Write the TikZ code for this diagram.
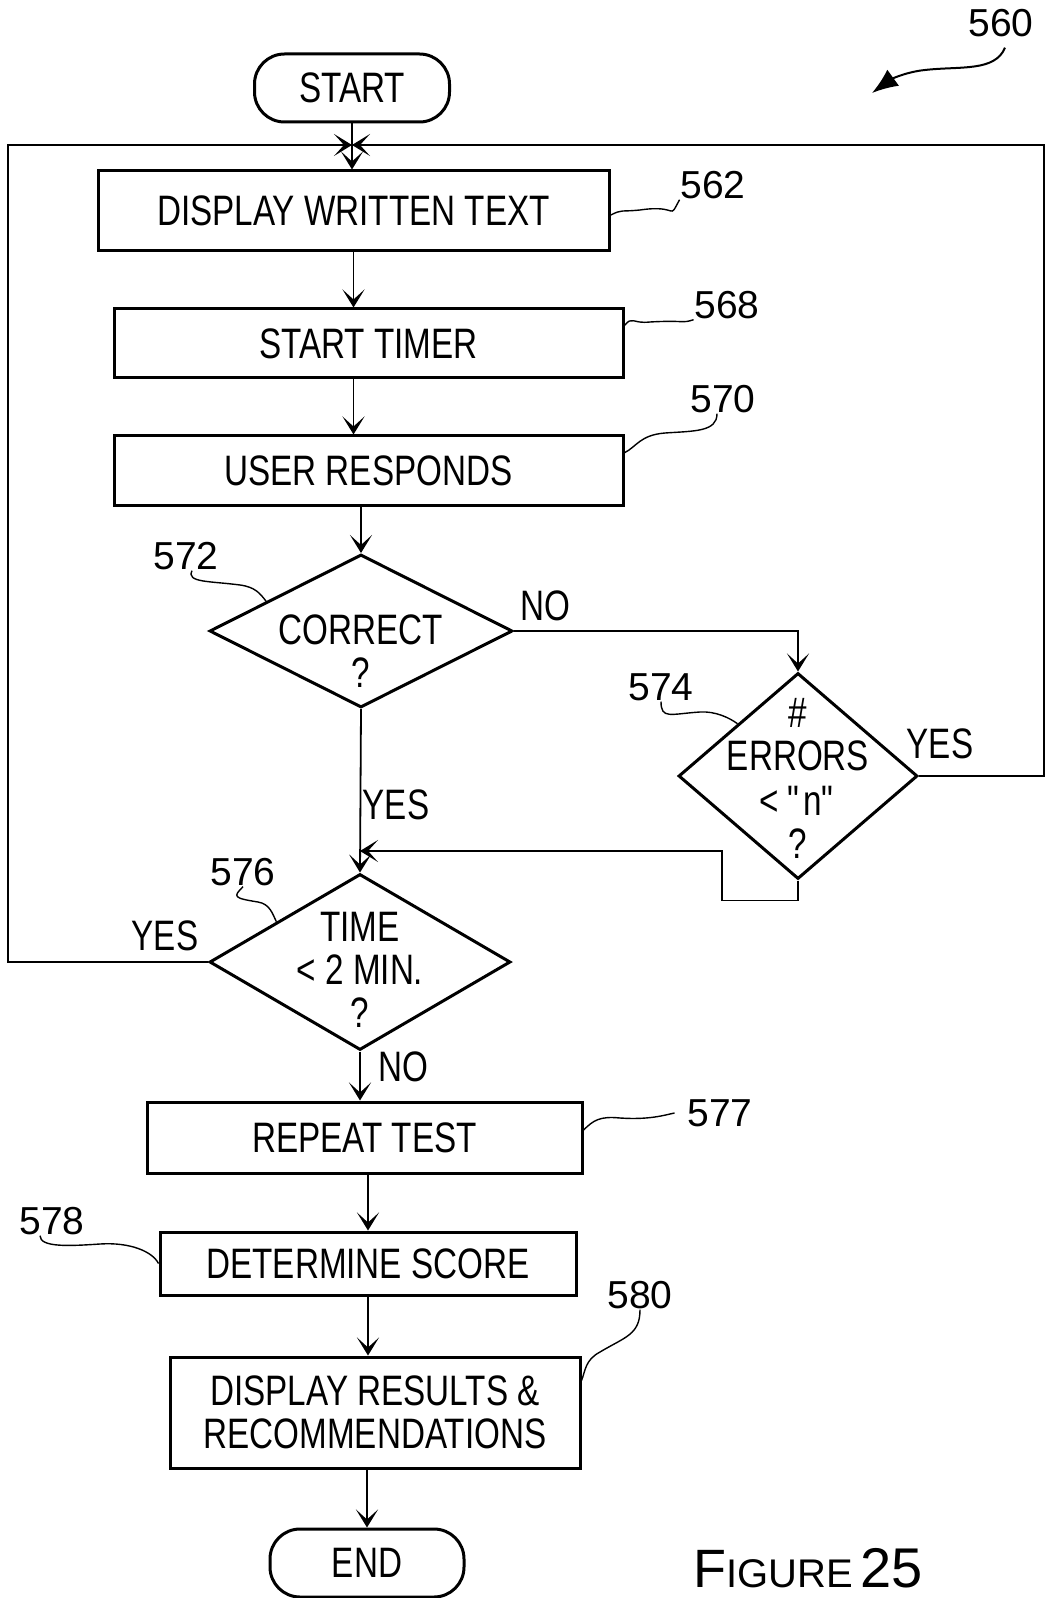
\documentclass[tikz,border=0pt]{standalone}
\usepackage{fontspec}
\setmainfont{Liberation Sans}[FakeStretch=0.78]
\newfontfamily\refFont{Liberation Sans}
\usetikzlibrary{arrows.meta,shapes,calc}
\newcommand{\flowFont}{\fontsize{21.3}{21.5}\selectfont}
\newcommand{\refSize}{\refFont\fontsize{19.5}{20}\selectfont}
\tikzset{%
  >={Stealth[length=9pt,width=11pt,inset=5pt]},
  % Specifications for style of nodes:
     base/.style = {rectangle, draw=black, line width=1.5pt, inner sep=0pt,
                           text centered, align=center},
    processBox/.style = {base},
    terminalBox/.style = {base, rounded corners=15pt},
    decisionBox/.style = {base, diamond},
    refNumber/.style = {inner sep=0pt, font=\refSize},
    answerText/.style = {inner sep=0pt},
    leader/.style = {line width=0.7pt},
}

\begin{document}
\begin{tikzpicture}[x=0.5pt, y=-0.5pt, line width=0.9pt,
    every node/.style={font=\flowFont, align=center}]
  \useasboundingbox (0,0) rectangle (1046,1598);
  % Specification of nodes (position, etc.)
  \node (start)        [terminalBox, minimum width=97.5pt, minimum height=34pt] at (352,88) {START};
  \node (displayText)  [processBox, minimum width=255.5pt, minimum height=40pt] at (353.5,211) {DISPLAY WRITTEN TEXT};
  \node (startTimer)   [processBox, minimum width=254.5pt, minimum height=34.5pt] at (368.5,343.5) {START TIMER};
  \node (userResponds) [processBox, minimum width=254.5pt, minimum height=35pt] at (368.5,471) {USER RESPONDS};

  \node (correct)   [decisionBox, minimum width=151.5pt, minimum height=76.5pt,
                     label={[yshift=-10pt]center:CORRECT\\?}] at (361,631) {};
  \node (errors)    [decisionBox, minimum width=119.5pt, minimum height=103pt,
                     label={[yshift=-1pt]center:\#\\ERRORS\\[1pt] < \textquotedbl n\textquotedbl\\?}] at (798,776) {};
  \node (timeCheck) [decisionBox, minimum width=150.5pt, minimum height=88pt,
                     label={[yshift=-4pt]center:TIME\\< 2 MIN.\\?}] at (360,962) {};

  \node (repeatTest) [processBox, minimum width=217.5pt, minimum height=35.5pt] at (364.5,1137.5) {REPEAT TEST};
  \node (score)      [processBox, minimum width=208pt, minimum height=31.5pt] at (368,1263.5) {DETERMINE SCORE};
  \node (results)    [processBox, minimum width=205pt, minimum height=55.5pt] at (375,1412.5)
                     {DISPLAY RESULTS \&\\RECOMMENDATIONS};
  \node (end)        [terminalBox, minimum width=97pt, minimum height=34pt] at (367,1563) {END};

  % reference numbers
  \node (ref560) [refNumber] at (1001,23) {560};
  \node (ref562) [refNumber] at (713,185) {562};
  \node (ref568) [refNumber] at (727,305) {568};
  \node (ref570) [refNumber] at (723,399) {570};
  \node (ref572) [refNumber] at (186,556) {572};
  \node (ref574) [refNumber] at (661,687) {574};
  \node (ref576) [refNumber] at (243,872) {576};
  \node (ref577) [refNumber] at (720,1113) {577};
  \node (ref578) [refNumber] at (52,1221) {578};
  \node (ref580) [refNumber] at (640,1295) {580};

  % answers on the branches
  \node (noCorrect)  [answerText] at (545,606) {NO};
  \node (yesCorrect) [answerText] at (396,805) {YES};
  \node (yesErrors)  [answerText] at (940,744) {YES};
  \node (yesTime)    [answerText] at (165,936) {YES};
  \node (noTime)     [answerText] at (403,1067) {NO};

  \node (figTitle) [inner sep=0pt] at (808,1568)
        {\refFont{\fontsize{27}{28}\selectfont F}{\fontsize{20}{21}\selectfont IGURE}\,{\fontsize{28}{29}\selectfont 25}};

  % corners of the return lines
  \coordinate (loopJoin)     at (352,145);
  \coordinate (leftRail)     at (8,145);
  \coordinate (rightRail)    at (1044,145);
  \coordinate (timeJoin)     at (360,851);
  \coordinate (bypassCorner) at (722,851);
  \coordinate (figPointer)   at (872,93);

  % Specification of lines between nodes specified above
  \draw[->] (start.south) -- (start.south |- displayText.north);
  \draw[->] (displayText.south) -- (displayText.south |- startTimer.north);
  \draw[->] (displayText.south |- startTimer.south) -- (displayText.south |- userResponds.north);
  \draw[->] (correct.north |- userResponds.south) -- (correct.north);

  \draw[->] (correct.east) -| (errors.north);
  \draw[->] (correct.south) -- (timeCheck.north);
  \draw[->] (errors.south) -- ++(0,20) -| (bypassCorner) -- (timeJoin);

  \draw[->] (errors.east) -| (rightRail) -- (loopJoin);
  \draw[->] (timeCheck.west) -| (leftRail) -- (loopJoin);

  \draw[->] (timeCheck.south) -- (timeCheck.south |- repeatTest.north);
  \draw[->] (score.north |- repeatTest.south) -- (score.north);
  \draw[->] (score.south) -- (score.south |- results.north);
  \draw[->] (end.north |- results.south) -- (end.north);

  % leader lines to the reference numbers
  \draw[->, line width=1pt, >={Latex[length=13pt,width=10pt]}]
        ([xshift=2pt,yshift=-5pt]ref560.south) .. controls (995,72) and (960,66) .. (925,70)
        .. controls (905,72) and (890,80) .. (figPointer);
  \draw[leader] (ref562.south west) .. controls +(-12,22) and +(40,-6) .. (640,210)
        .. controls +(-20,2) and +(12,-6) .. ($(displayText.north east)!0.55!(displayText.south east)$);
  \draw[leader] (ref568.south west) .. controls +(-12,4) and +(35,-2) .. (650,322)
        .. controls +(-18,2) and +(8,-10) .. ($(startTimer.north east)!0.25!(startTimer.south east)$);
  \draw[leader] ([xshift=-3pt]ref570.south) .. controls +(0,18) and +(30,-2) .. (665,433)
        .. controls +(-25,2) and +(12,-6) .. ($(userResponds.north east)!0.25!(userResponds.south east)$);
  \draw[leader] ([xshift=3pt]ref572.south) .. controls +(-6,12) and +(-30,-4) .. (240,585)
        .. controls +(15,2) and +(-6,-8) .. ($(correct.north)!0.62!(correct.west)$);
  \draw[leader] (ref574.south) .. controls +(0,18) and +(-30,2) .. (700,712)
        .. controls +(15,-1) and +(-8,-6) .. ($(errors.north)!0.5!(errors.west)$);
  \draw[leader] (ref576.south) .. controls +(-10,10) and +(-25,-4) .. (258,902)
        .. controls +(12,2) and +(-4,-8) .. ($(timeCheck.north)!0.55!(timeCheck.west)$);
  \draw[leader] ([xshift=-6pt]ref577.west) .. controls +(-10,2) and +(30,2) .. (620,1118)
        .. controls +(-20,-2) and +(10,-10) .. ($(repeatTest.north east)!0.4!(repeatTest.south east)$);
  \draw[leader] ([xshift=-6pt]ref578.south) .. controls +(0,12) and +(-30,2) .. (100,1244)
        .. controls +(30,-2) and +(-6,-12) .. ($(score.north west)!0.5!(score.south west)$);
  \draw[leader] (ref580.south) .. controls +(0,25) and +(25,-15) .. (600,1352)
        .. controls +(-15,8) and +(4,-10) .. ($(results.north east)!0.22!(results.south east)$);
\end{tikzpicture}
\end{document}
